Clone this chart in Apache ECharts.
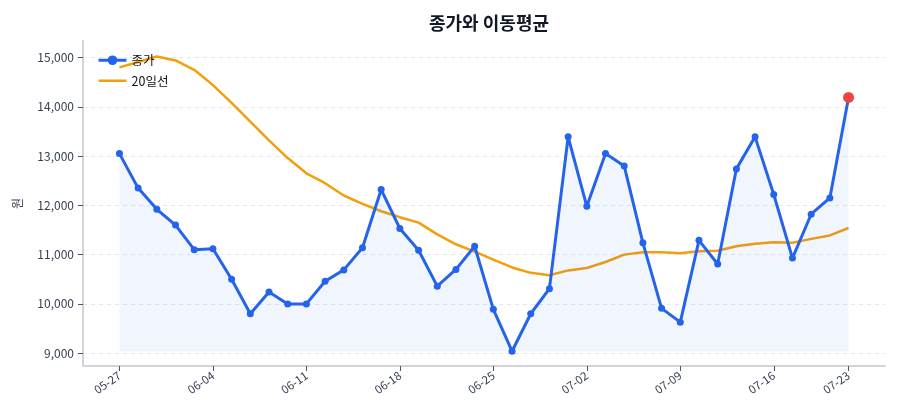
<!DOCTYPE html>
<html>
<head>
<meta charset="utf-8">
<script src="https://cdn.jsdelivr.net/npm/echarts@6/dist/echarts.min.js"></script>
<style>
  html, body { margin: 0; padding: 0; background: #ffffff; }
  #main { width: 900px; height: 420px; }
</style>
</head>
<body>
<div id="main"></div>
<script>
// 거래일 (40개)
const dates = [
  '05-27', '05-28', '05-29', '05-30', '06-02', '06-04', '06-05', '06-06', '06-09', '06-10',
  '06-11', '06-12', '06-13', '06-16', '06-17', '06-18', '06-19', '06-20', '06-23', '06-24',
  '06-25', '06-26', '06-27', '06-30', '07-01', '07-02', '07-03', '07-04', '07-07', '07-08',
  '07-09', '07-10', '07-11', '07-14', '07-15', '07-16', '07-17', '07-18', '07-21', '07-23'
];
// 종가
const close = [
  13050, 12350, 11920, 11600, 11100, 11120, 10500, 9800, 10240, 10000,
  10000, 10460, 10690, 11140, 12320, 11530, 11090, 10360, 10700, 11170,
  9890, 9040, 9800, 10310, 13390, 11980, 13050, 12800, 11240, 9910,
  9630, 11290, 10810, 12740, 13390, 12220, 10930, 11820, 12150, 14190
];
// 20일 이동평균
const ma20 = [
  14800, 14910, 15020, 14940, 14750, 14440, 14080, 13700, 13320, 12960,
  12650, 12450, 12200, 12030, 11880, 11760, 11650, 11410, 11210, 11060,
  10900, 10740, 10630, 10580, 10680, 10730, 10850, 11000, 11050, 11050,
  11030, 11070, 11080, 11170, 11220, 11250, 11240, 11320, 11390, 11540
];
const xTicks = [0, 5, 10, 15, 20, 25, 30, 35, 39];
const yTicks = [9000, 10000, 11000, 12000, 13000, 14000, 15000];

const FONT = "'Noto Sans CJK KR', 'Noto Sans', sans-serif";
const last = close.length - 1;

let closeData = close.map((v, i) => {
  if (i === last) {
    return {value: [i, v], symbolSize: 11, itemStyle: {color: '#ef4444'}};
  }
  return [i, v];
});
let maData = ma20.map((v, i) => [i, v]);

let myChart = echarts.init(document.getElementById('main'));
let option = {
  backgroundColor: '#ffffff',
  textStyle: {fontFamily: FONT},
  title: {
    text: '종가와 이동평균',
    left: 484,
    textAlign: 'center',
    top: 9,
    textStyle: {fontSize: 18, fontWeight: 'bold', color: '#111827', fontFamily: FONT}
  },
  legend: {
    orient: 'vertical',
    left: 92,
    top: 49,
    itemWidth: 28,
    itemHeight: 12,
    itemGap: 8,
    lineStyle: {width: 3},
    textStyle: {fontSize: 12.5, color: '#111111', fontFamily: FONT},
    data: [
      {name: '종가'},
      {name: '20일선', icon: 'path://M0,0 L28,0 L28,2.5 L0,2.5 Z'}
    ]
  },
  grid: {left: 83, right: 15, top: 41, bottom: 54},
  xAxis: {
    type: 'value',
    min: -1.95,
    max: 40.95,
    axisLine: {show: true, onZero: false, lineStyle: {color: '#d1d5db', width: 2}},
    axisTick: {show: true, customValues: xTicks, length: 5, lineStyle: {color: '#4b5563'}},
    axisLabel: {
      customValues: xTicks,
      rotate: 35,
      fontSize: 11.5,
      color: '#374151',
      margin: 8,
      formatter: function (v) {
        return dates[Math.round(v)];
      }
    },
    splitLine: {show: false}
  },
  yAxis: {
    type: 'value',
    min: 8740,
    max: 15335,
    name: '원',
    nameLocation: 'middle',
    nameRotate: 90,
    nameGap: 60,
    nameTextStyle: {fontSize: 12, color: '#374151', fontFamily: FONT},
    axisLine: {show: true, onZero: false, lineStyle: {color: '#d1d5db', width: 2}},
    axisTick: {show: true, customValues: yTicks, length: 5, lineStyle: {color: '#4b5563'}},
    axisLabel: {
      customValues: yTicks,
      fontSize: 12,
      color: '#374151',
      margin: 9,
      formatter: function (v) {
        return v.toLocaleString('en-US');
      }
    },
    splitLine: {show: true, lineStyle: {color: '#e5e7eb', type: [4, 4], width: 1}}
  },
  series: [
    {
      name: '종가',
      type: 'line',
      data: closeData,
      symbol: 'circle',
      symbolSize: 7,
      showAllSymbol: true,
      color: '#2563eb',
      lineStyle: {width: 3, color: '#2563eb'},
      itemStyle: {color: '#2563eb'},
      areaStyle: {color: 'rgba(37, 99, 235, 0.09)', origin: Math.min(...close)},
      z: 3
    },
    {
      name: '20일선',
      type: 'line',
      data: maData,
      symbol: 'none',
      color: '#f59e0b',
      lineStyle: {width: 2.5, color: '#f59e0b'},
      itemStyle: {color: '#f59e0b'},
      z: 2
    }
  ],
  animation: false
};
myChart.setOption(option);
</script>
</body>
</html>
